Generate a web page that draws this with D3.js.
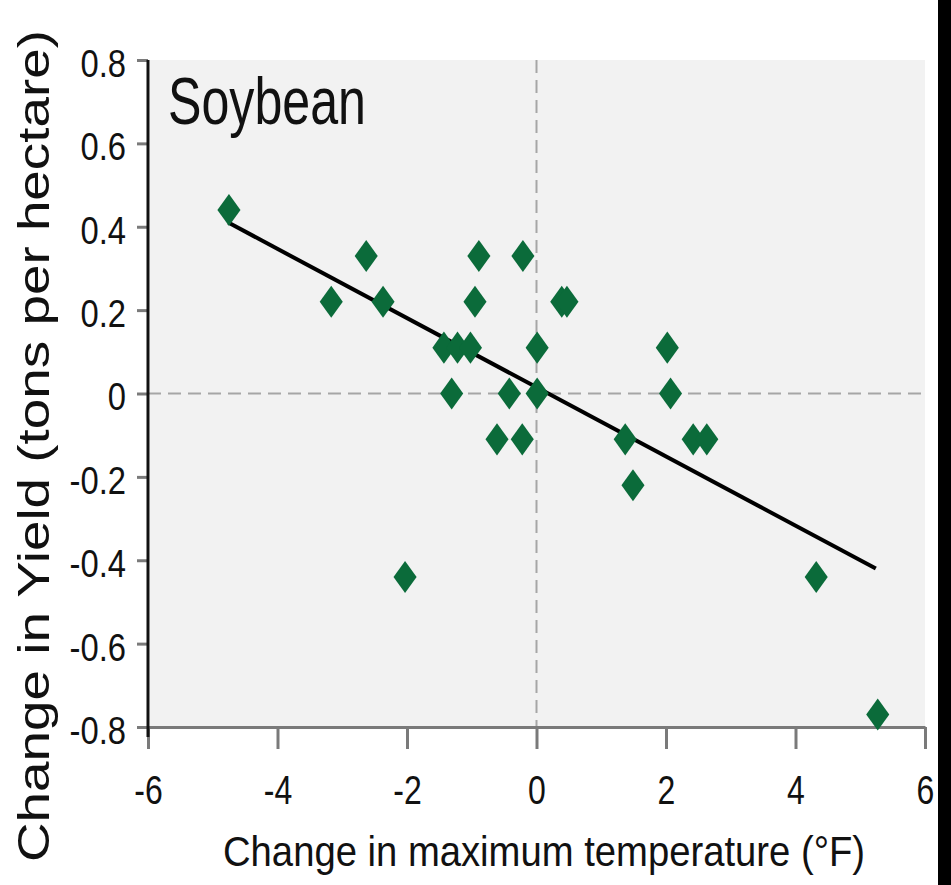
<!DOCTYPE html>
<html>
<head>
<meta charset="utf-8">
<script src="https://cdn.jsdelivr.net/npm/d3@7"></script>
<style>
  html, body { margin: 0; padding: 0; background: #fff; }
  svg { display: block; font-family: "Liberation Sans", Arial, sans-serif; }
</style>
</head>
<body>
<div id="chart"></div>
<script>
// soybean yield vs max temperature
const tempChange = [-4.75, -3.17, -2.63, -2.37, -2.03, -1.43, -1.22, -1.02, -1.31, -0.95,
  -0.89, -0.61, -0.42, -0.22, -0.21, 0.01, 0.01, 0.39, 0.47, 1.37,
  1.49, 2.02, 2.07, 2.42, 2.63, 4.32, 5.27];
const yieldChange = [0.44, 0.22, 0.33, 0.22, -0.44, 0.11, 0.11, 0.11, 0.0, 0.22,
  0.33, -0.11, 0.0, -0.11, 0.33, 0.11, 0.0, 0.22, 0.22, -0.11,
  -0.22, 0.11, 0.0, -0.11, -0.11, -0.44, -0.77];
const fitX = [-4.76, 5.24];
const fitY = [0.41, -0.42];
const xTicks = [-6, -4, -2, 0, 2, 4, 6];
const yTicks = [0.8, 0.6, 0.4, 0.2, 0, -0.2, -0.4, -0.6, -0.8];
const cropName = "Soybean";
const xTitle = "Change in maximum temperature (°F)";
const yTitle = "Change in Yield (tons per hectare)";

const width = 951, height = 885;
const plotLeft = 148, plotRight = 925, plotTop = 60, plotBottom = 727;

const svg = d3.select("#chart").append("svg")
  .attr("width", width)
  .attr("height", height);

const x = d3.scaleLinear().domain([-6, 6]).range([plotLeft, plotRight]);
const y = d3.scaleLinear().domain([-0.8, 0.8]).range([plotBottom, plotTop]);

// plain hyphen for negatives, like the source
const fmt = d3.formatLocale({ decimal: ".", thousands: ",", grouping: [3], currency: ["", ""], minus: "-" });
const fmtX = fmt.format("d");
const fmtY = (d) => (d === 0 ? "0" : fmt.format(".1f")(d));

// squeeze horizontal labels (the source is narrow)
function squeeze(sel, k) {
  sel.each(function () {
    const w = this.getComputedTextLength();
    d3.select(this).attr("textLength", w * k).attr("lengthAdjust", "spacingAndGlyphs");
  });
}

// plot background
svg.append("rect")
  .attr("x", plotLeft + 2)
  .attr("y", plotTop)
  .attr("width", plotRight - plotLeft - 2)
  .attr("height", plotBottom - plotTop)
  .attr("fill", "#f2f2f2");

// zero lines
svg.append("line")
  .attr("x1", plotLeft).attr("x2", plotRight)
  .attr("y1", y(0)).attr("y2", y(0))
  .attr("stroke", "#a6a6a6").attr("stroke-width", 2)
  .attr("stroke-dasharray", "13,7");
svg.append("line")
  .attr("x1", x(0)).attr("x2", x(0))
  .attr("y1", plotTop).attr("y2", plotBottom)
  .attr("stroke", "#a6a6a6").attr("stroke-width", 2)
  .attr("stroke-dasharray", "13,7");

// x axis
const gx = svg.append("g")
  .attr("transform", `translate(0, ${plotBottom})`)
  .call(d3.axisBottom(x).tickValues(xTicks).tickFormat(fmtX)
    .tickSize(22).tickPadding(27).tickSizeOuter(0));
gx.select(".domain").attr("stroke", "#7a7a7a").attr("stroke-width", 3);
gx.selectAll(".tick line").attr("stroke", "#7a7a7a").attr("stroke-width", 3);
gx.selectAll(".tick text")
  .attr("fill", "#111")
  .style("font-size", "40px")
  .call(squeeze, 0.8);

// y axis
const gy = svg.append("g")
  .attr("transform", `translate(${plotLeft}, 0)`)
  .call(d3.axisLeft(y).tickValues(yTicks).tickFormat(fmtY)
    .tickSize(11).tickPadding(11).tickSizeOuter(0));
gy.select(".domain").remove();
gy.selectAll(".tick line").attr("stroke", "#7a7a7a").attr("stroke-width", 3);
gy.selectAll(".tick text")
  .attr("fill", "#111")
  .attr("dy", "0.42em")
  .style("font-size", "39px")
  .call(squeeze, 0.84);
svg.append("line")
  .attr("x1", plotLeft).attr("x2", plotLeft)
  .attr("y1", plotTop).attr("y2", plotBottom + 10)
  .attr("stroke", "#111").attr("stroke-width", 3);

// regression line
svg.append("path")
  .datum(d3.zip(fitX, fitY))
  .attr("fill", "none")
  .attr("stroke", "#000")
  .attr("stroke-width", 4)
  .attr("d", d3.line().x((d) => x(d[0])).y((d) => y(d[1])));

// diamonds, taller than wide
const diamond = {
  draw(ctx, size) {
    const h = Math.sqrt(size) * 0.69, w = h * 0.72;
    ctx.moveTo(0, -h);
    ctx.lineTo(w, 0);
    ctx.lineTo(0, h);
    ctx.lineTo(-w, 0);
    ctx.closePath();
  },
};
svg.append("g")
  .selectAll("path")
  .data(d3.zip(tempChange, yieldChange))
  .join("path")
  .attr("transform", (d) => `translate(${x(d[0])}, ${y(d[1])})`)
  .attr("d", d3.symbol().type(diamond).size(540))
  .attr("fill", "#0b6b3a");

// labels
svg.append("text")
  .attr("x", 168)
  .attr("y", 124)
  .attr("fill", "#111")
  .style("font-size", "66px")
  .attr("textLength", 198)
  .attr("lengthAdjust", "spacingAndGlyphs")
  .text(cropName);

svg.append("text")
  .attr("x", 223)
  .attr("y", 866)
  .attr("fill", "#111")
  .style("font-size", "42px")
  .attr("textLength", 642)
  .attr("lengthAdjust", "spacingAndGlyphs")
  .text(xTitle);

svg.append("text")
  .attr("transform", "translate(49, 862) rotate(-90)")
  .attr("fill", "#111")
  .style("font-size", "44px")
  .attr("textLength", 832)
  .attr("lengthAdjust", "spacingAndGlyphs")
  .text(yTitle);

// dark strip along the right edge of the source image
svg.append("rect")
  .attr("x", 938)
  .attr("y", 0)
  .attr("width", width - 938)
  .attr("height", height)
  .attr("fill", "#000");
</script>
</body>
</html>
